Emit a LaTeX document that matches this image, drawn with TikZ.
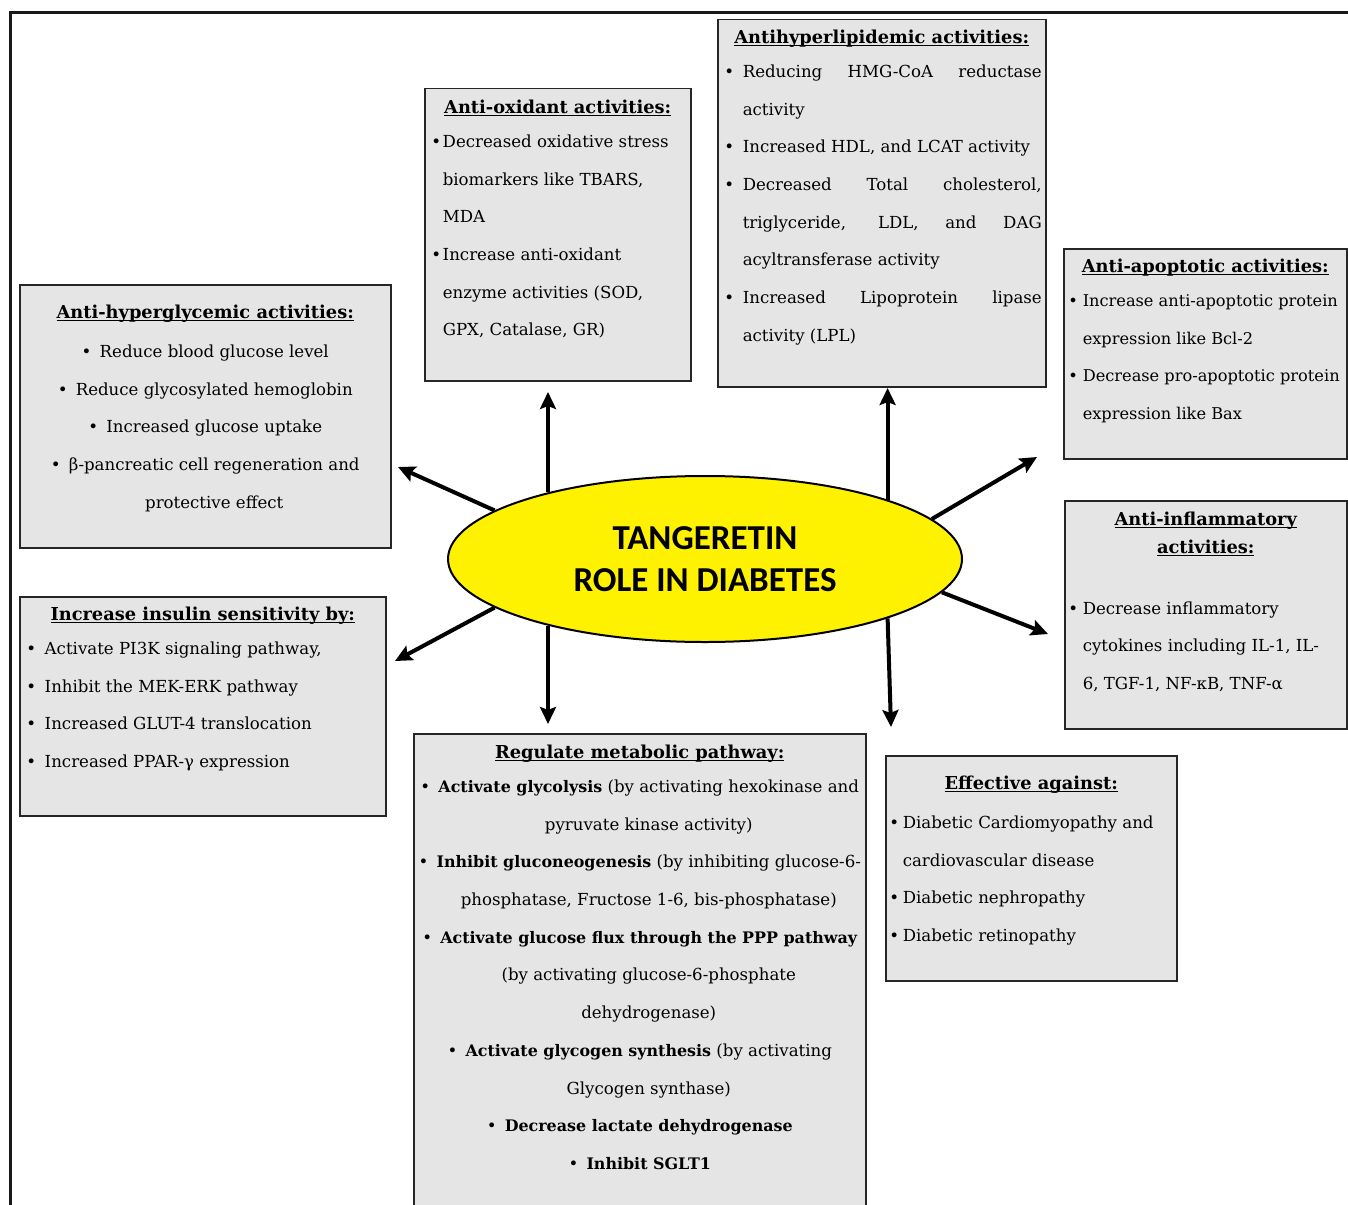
\documentclass[tikz,border=0pt]{standalone}
\usepackage{fontspec}
\setmainfont{DejaVu Serif}
\newfontfamily\calib{Carlito}
\usetikzlibrary{arrows.meta,shapes.geometric}
\hyphenpenalty=10000
\exhyphenpenalty=10000
\newsavebox\ulbox
\newcommand\ulx[1]{\leavevmode\sbox\ulbox{#1}\rlap{\rule[-2.6pt]{\wd\ulbox}{1.3pt}}\usebox\ulbox}
\newcommand\ttlf{\fontsize{17.8}{37.7}\selectfont\bfseries}
\newcommand\bft[1]{{\fontsize{15.9}{37.7}\selectfont\bfseries #1}}
\newcommand\itm[2]{\hangindent=#1\relax\hangafter=1\relax\noindent\makebox[#1][l]{\hspace*{-1.5pt}•}#2\par}
\newcommand\bul{\makebox[18pt][l]{•}}
\newcommand\cln[1]{\noindent\makebox[\linewidth]{#1}\par}
\newcommand\ttlline[2]{{\centering\rule{0pt}{#1}\ttlf\ulx{#2}\par}}
\begin{document}
\begin{tikzpicture}[x=1pt,y=-1pt,
  bx/.style={draw=black!85,line width=1.5pt,fill=black!10,inner sep=0pt,anchor=north west,
    font=\rmfamily\fontsize{16.6}{37.7}\selectfont},
  ell/.style={ellipse,draw=black,line width=2pt,fill=yellow,minimum width=514pt,minimum height=166pt,
    inner sep=0pt,align=center,font=\calib\bfseries\fontsize{35}{42}\selectfont},
  arr/.style={line width=4pt,-{Stealth[length=17pt,width=16pt,inset=3pt]}}]
\useasboundingbox (0,0) rectangle (1348,1204);
\clip (0,0) rectangle (1348,1204);
\fill[white] (0,0) rectangle (1348,1204);
% outer frame
\draw[line width=3pt,black!90] (10,1230) -- (10,13) -- (1380,13);

% Anti-oxidant
\node[bx] (ox) at (424,88) {\begin{minipage}[t][292pt][t]{266pt}
\ttlline{25pt}{Anti-oxidant activities:}
\vspace{-4pt}
\raggedright\leftskip=8pt\relax
\itm{10pt}{Decreased oxidative stress\newline biomarkers like TBARS,\newline MDA}
\itm{10pt}{Increase anti-oxidant\newline enzyme activities (SOD,\newline GPX, Catalase, GR)}
\end{minipage}};

% Antihyperlipidemic
\node[bx] (hl) at (717,19) {\begin{minipage}[t][367pt][t]{328pt}
\ttlline{24pt}{Antihyperlipidemic activities:}
\vspace{-4pt}
\leftskip=8pt\relax\rightskip=4pt\relax\tolerance=10000\relax
\itm{17pt}{Reducing HMG-CoA reductase\linebreak activity}
\itm{17pt}{Increased HDL, and LCAT activity}
\itm{17pt}{Decreased Total cholesterol,\linebreak triglyceride, LDL, and DAG\linebreak acyltransferase activity}
\itm{17pt}{Increased Lipoprotein lipase\linebreak activity (LPL)}
\end{minipage}};

% Anti-apoptotic
\node[bx,font=\rmfamily\fontsize{16.2}{37.7}\selectfont] (ap) at (1063,248) {\begin{minipage}[t][210pt][t]{283pt}
\ttlline{24pt}{Anti-apoptotic activities:}
\vspace{-4pt}
\raggedright\leftskip=6pt\relax
\itm{13pt}{Increase anti-apoptotic protein\newline expression like Bcl-2}
\itm{13pt}{Decrease pro-apoptotic protein\newline expression like Bax}
\end{minipage}};

% Anti-hyperglycemic
\node[bx] (hg) at (19,284) {\begin{minipage}[t][263pt][t]{371pt}
\ttlline{34pt}{Anti-hyperglycemic activities:}
\vspace{1pt}
\cln{\bul Reduce blood glucose level}
\cln{\bul Reduce glycosylated hemoglobin}
\cln{\bul Increased glucose uptake}
\cln{\bul β-pancreatic cell regeneration and}
\cln{\hspace*{18pt}protective effect}
\end{minipage}};

% Insulin sensitivity
\node[bx] (is) at (19,596) {\begin{minipage}[t][219pt][t]{366pt}
\ttlline{24pt}{Increase insulin sensitivity by:}
\vspace{-4pt}
\raggedright\leftskip=8pt\relax
\itm{17pt}{Activate PI3K signaling pathway,}
\itm{17pt}{Inhibit the MEK-ERK pathway}
\itm{17pt}{Increased GLUT-4 translocation}
\itm{17pt}{Increased PPAR-γ expression}
\end{minipage}};

% Anti-inflammatory
\node[bx] (if) at (1064,500) {\begin{minipage}[t][228pt][t]{282pt}
{\centering\rule{0pt}{25pt}\ttlf\ulx{Anti-inflammatory}\par\vspace{-10pt}\ulx{activities:}\par}
\vspace{23pt}
\raggedright\leftskip=5pt\relax
\itm{13pt}{Decrease inflammatory\newline cytokines including IL-1, IL-\newline 6, TGF-1, NF-κB, TNF-α}
\end{minipage}};

% Regulate metabolic pathway
\node[bx] (mp) at (413,733) {\begin{minipage}[t][500pt][t]{452pt}
\ttlline{25pt}{Regulate metabolic pathway:}
\vspace{-4pt}
\cln{\bul\bft{Activate glycolysis} (by activating hexokinase and}
\cln{\hspace*{18pt}pyruvate kinase activity)}
\cln{\bul\bft{Inhibit gluconeogenesis} (by inhibiting glucose-6-}
\cln{\hspace*{18pt}phosphatase, Fructose 1-6, bis-phosphatase)}
\cln{\bul\bft{Activate glucose flux through the PPP pathway}}
\cln{\hspace*{18pt}(by activating glucose-6-phosphate}
\cln{\hspace*{18pt}dehydrogenase)}
\cln{\bul\bft{Activate glycogen synthesis} (by activating}
\cln{\hspace*{18pt}Glycogen synthase)}
\cln{\bul\bft{Decrease lactate dehydrogenase}}
\cln{\bul\bft{Inhibit SGLT1}}
\end{minipage}};

% Effective against
\node[bx] (ef) at (885,755) {\begin{minipage}[t][225pt][t]{291pt}
\ttlline{34pt}{Effective against:}
\vspace{1pt}
\raggedright\leftskip=5pt\relax
\itm{12pt}{Diabetic Cardiomyopathy and\newline cardiovascular disease}
\itm{12pt}{Diabetic nephropathy}
\itm{12pt}{Diabetic retinopathy}
\end{minipage}};

% Centre
\node[ell] (c) at (705,559) {TANGERETIN\\ROLE IN DIABETES};

% arrow tips
\coordinate (tox) at (548,392);
\coordinate (thl) at (884,388);
\coordinate (tap) at (1037,457);
\coordinate (thg) at (398,467);
\coordinate (tis) at (395,661);
\coordinate (tmp) at (553,724);
\coordinate (tef) at (891,727);
\coordinate (tif) at (1048,634);

\draw[arr] (c.157) -- (c.157 |- tox);
\draw[arr] (c.18.4) -- (c.18.4 |- thl);
\draw[arr] (c.10) -- (tap);
\draw[arr] (c.167) -- (thg);
\draw[arr] (c.193.5) -- (tis);
\draw[arr] (c.203.8) -- (c.203.8 |- tmp);
\draw[arr] (c.342.3) -- (tef);
\draw[arr] (c.352.3) -- (tif);
\end{tikzpicture}
\end{document}
